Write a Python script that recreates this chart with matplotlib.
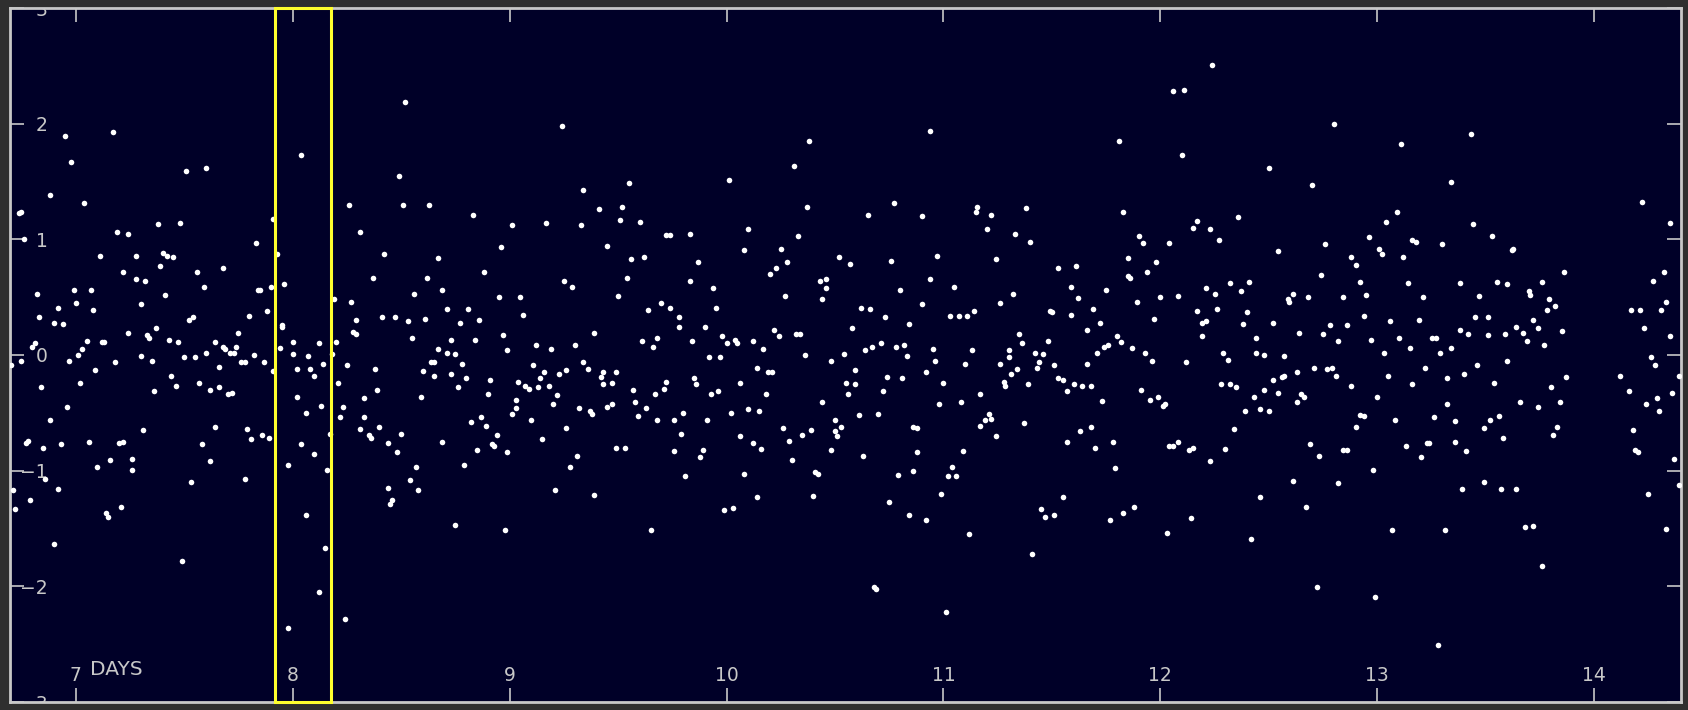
import matplotlib
matplotlib.use("Agg")
import matplotlib.pyplot as plt
from matplotlib.patches import Rectangle
import numpy as np

# (day, value) readings, split by day range
seg_7 = [
    (6.70, -0.09), (6.71, -1.17), (6.72, -1.33), (6.74, 1.23), (6.75, 1.24), (6.75, -0.05), (6.76, 1.00),
    (6.77, -0.76), (6.78, -0.74), (6.79, -1.25), (6.80, 0.07), (6.81, 0.10), (6.82, 0.53), (6.83, 0.33),
    (6.84, -0.28), (6.85, -0.80), (6.86, -1.07), (6.88, 1.38), (6.88, -0.56), (6.90, -1.63), (6.90, 0.28),
    (6.92, -1.16), (6.92, 0.41), (6.93, -0.77), (6.94, 0.27), (6.95, 1.89), (6.96, -0.45), (6.97, -0.05),
    (6.98, 1.67), (6.99, 0.56), (7.00, 0.45), (7.01, 0.00), (7.02, -0.24), (7.03, 0.05), (7.04, 1.31),
    (7.05, 0.12), (7.06, -0.75), (7.07, 0.56), (7.08, 0.39), (7.09, -0.13), (7.10, -0.97), (7.11, 0.86),
    (7.12, 0.11), (7.13, 0.11), (7.14, -1.37), (7.15, -1.40), (7.16, -0.91), (7.17, 1.93), (7.18, -0.06),
    (7.19, 1.06), (7.20, -0.76), (7.21, -1.31), (7.22, -0.75), (7.22, 0.72), (7.24, 0.19), (7.24, 1.05),
    (7.26, -0.90), (7.26, -0.99), (7.28, 0.86), (7.28, 0.66), (7.30, 0.44), (7.30, -0.01), (7.31, -0.65),
    (7.32, 0.64), (7.33, 0.17), (7.34, 0.15), (7.35, -0.05), (7.36, -0.31), (7.37, 0.23), (7.38, 1.13),
    (7.39, 0.77), (7.40, 0.88), (7.42, 0.86), (7.45, 0.85), (7.41, 0.52), (7.43, 0.13), (7.44, -0.18),
    (7.46, -0.27), (7.47, 0.11), (7.48, 1.14), (7.49, -1.78), (7.50, -0.02), (7.51, 1.59), (7.52, 0.30),
    (7.54, 0.33), (7.53, -1.10), (7.55, -0.02), (7.56, 0.72), (7.57, -0.24), (7.58, -0.77), (7.59, 0.59),
    (7.60, 0.02), (7.60, 1.62), (7.62, -0.30), (7.62, -0.92), (7.64, 0.11), (7.64, -0.62), (7.66, -0.28),
    (7.66, -0.10), (7.68, 0.75), (7.68, 0.07), (7.69, 0.05), (7.70, -0.34), (7.72, -0.33), (7.71, 0.02),
    (7.73, 0.02), (7.74, 0.07), (7.75, 0.19), (7.76, -0.06), (7.78, -0.06), (7.78, -1.07), (7.79, -0.64),
    (7.80, 0.34), (7.81, -0.73), (7.82, 0.00), (7.83, 0.97), (7.84, 0.56), (7.85, 0.56), (7.86, -0.69),
    (7.87, -0.06), (7.88, 0.38), (7.89, -0.72), (7.90, 0.59), (7.91, -0.14), (7.91, 1.18), (7.93, 0.87),
    (7.94, 0.06), (7.95, 0.26), (7.95, 0.24), (7.96, 0.61), (7.98, -0.95), (7.98, -2.36),
]

seg_8 = [
    (8.04, 1.73), (8.00, 0.11), (8.00, 0.01), (8.02, -0.36), (8.02, -0.12), (8.04, -0.77), (8.06, -1.38),
    (8.06, -0.50), (8.07, -0.01), (8.08, -0.12), (8.10, -0.18), (8.10, -0.86), (8.12, 0.10), (8.12, -2.05),
    (8.13, -0.44), (8.14, -0.08), (8.15, -1.67), (8.16, -0.99), (8.17, -0.68), (8.18, 0.01), (8.19, 0.48),
    (8.20, 0.11), (8.21, -0.24), (8.22, -0.54), (8.23, -0.45), (8.24, -2.28), (8.25, -0.09), (8.26, 1.30),
    (8.27, 0.46), (8.28, 0.20), (8.29, 0.18), (8.29, 0.30), (8.31, -0.64), (8.31, 1.06), (8.33, -0.54),
    (8.33, -0.37), (8.35, -0.69), (8.36, -0.72), (8.37, 0.67), (8.38, -0.12), (8.39, -0.30), (8.40, -0.62),
    (8.41, 0.33), (8.42, 0.87), (8.44, -1.15), (8.44, -0.76), (8.45, -1.29), (8.46, -1.25), (8.47, 0.33),
    (8.48, -0.84), (8.49, 1.55), (8.50, -0.68), (8.51, 1.30), (8.52, 2.19), (8.53, 0.29), (8.54, -1.08),
    (8.55, 0.15), (8.56, 0.53), (8.57, -0.97), (8.58, -1.17), (8.59, -0.36), (8.60, -0.14), (8.61, 0.31),
    (8.62, 0.67), (8.63, 1.30), (8.64, -0.06), (8.65, -0.06), (8.65, -0.18), (8.67, 0.84), (8.67, 0.05),
    (8.69, 0.56), (8.69, -0.75), (8.71, 0.02), (8.71, 0.40), (8.73, -0.16), (8.73, 0.13), (8.75, 0.01),
    (8.75, -1.47), (8.76, -0.28), (8.77, 0.28), (8.78, -0.08), (8.79, -0.95), (8.80, -0.20), (8.81, 0.40),
    (8.82, -0.58), (8.83, 1.21), (8.84, 0.13), (8.85, -0.82), (8.86, 0.30), (8.87, -0.54), (8.88, 0.72),
    (8.89, -0.61), (8.90, -0.34), (8.91, -0.22), (8.92, -0.77), (8.93, -0.79), (8.94, -0.69), (8.95, 0.50),
    (8.96, 0.93), (8.97, 0.17), (8.98, -1.51), (8.99, -0.84), (8.99, 0.04),
]

seg_9 = [
    (9.01, 1.12), (9.01, -0.51), (9.03, -0.39), (9.03, -0.46), (9.04, -0.23), (9.05, 0.50), (9.06, 0.35),
    (9.07, -0.27), (9.09, -0.29), (9.10, -0.56), (9.11, -0.09), (9.12, 0.09), (9.13, -0.28), (9.14, -0.20),
    (9.15, -0.73), (9.16, -0.15), (9.17, 1.14), (9.18, -0.27), (9.19, 0.05), (9.20, -0.42), (9.21, -1.17),
    (9.22, -0.35), (9.23, -0.16), (9.24, 1.98), (9.25, 0.64), (9.26, -0.63), (9.26, -0.13), (9.29, 0.59),
    (9.28, -0.97), (9.30, 0.09), (9.31, -0.87), (9.32, -0.46), (9.33, 1.12), (9.34, 1.43), (9.34, -0.06),
    (9.36, -0.12), (9.37, -0.48), (9.38, -0.51), (9.39, -1.21), (9.39, 0.19), (9.41, 1.26), (9.42, -0.19),
    (9.43, -0.25), (9.43, -0.15), (9.45, 0.94), (9.45, -0.45), (9.47, -0.42), (9.47, -0.24), (9.49, -0.15),
    (9.49, -0.80), (9.53, -0.80), (9.50, 0.51), (9.51, 1.17), (9.52, 1.28), (9.54, 0.67), (9.55, 1.49),
    (9.56, 0.83), (9.57, -0.30), (9.58, -0.41), (9.59, -0.53), (9.60, 1.15), (9.61, 0.12), (9.62, 0.85),
    (9.63, -0.46), (9.64, 0.39), (9.65, -1.51), (9.66, 0.07), (9.67, -0.34), (9.68, -0.56), (9.68, 0.15),
    (9.70, 0.45), (9.71, -0.29), (9.72, -0.23), (9.72, 1.04), (9.74, 1.04), (9.74, 0.41), (9.76, -0.56),
    (9.76, -0.83), (9.78, 0.24), (9.78, 0.33), (9.79, -0.68), (9.80, -0.50), (9.81, -1.05), (9.83, 1.05),
    (9.83, 0.64), (9.84, 0.12), (9.85, -0.20), (9.86, -0.25), (9.87, 0.80), (9.88, -0.88), (9.89, -0.82),
    (9.90, 0.24), (9.91, -0.56), (9.92, -0.02), (9.93, -0.34), (9.94, 0.58), (9.95, 0.41), (9.96, -0.31),
    (9.97, -0.02), (9.98, 0.16), (9.99, -1.34),
]

seg_10 = [
    (10.03, -1.32), (10.00, 0.10), (10.01, 1.51), (10.02, -0.50), (10.04, 0.13), (10.05, 0.10),
    (10.06, -0.70), (10.06, -0.24), (10.08, -1.03), (10.08, 0.91), (10.10, 1.09), (10.10, -0.47),
    (10.12, -0.76), (10.12, 0.12), (10.14, -0.11), (10.14, -1.23), (10.15, -0.48), (10.16, -0.81),
    (10.17, 0.05), (10.18, -0.34), (10.19, -0.15), (10.21, -0.15), (10.20, 0.70), (10.22, 0.22),
    (10.23, 0.75), (10.24, 0.16), (10.25, 0.92), (10.26, -0.63), (10.27, 0.51), (10.28, 0.80),
    (10.29, -0.74), (10.30, -0.91), (10.31, 1.63), (10.32, 0.18), (10.34, 0.18), (10.33, 1.03),
    (10.35, -0.69), (10.36, 0.00), (10.37, 1.28), (10.38, 1.85), (10.39, -0.65), (10.40, -1.22),
    (10.41, -1.01), (10.42, -1.03), (10.43, 0.64), (10.44, -0.41), (10.44, 0.48), (10.46, 0.58),
    (10.46, 0.66), (10.48, -0.82), (10.48, -0.05), (10.50, -0.66), (10.50, -0.56), (10.51, -0.70),
    (10.52, 0.85), (10.53, -0.62), (10.54, 0.01), (10.55, -0.24), (10.56, -0.34), (10.57, 0.79),
    (10.58, 0.23), (10.59, -0.25), (10.59, -0.13), (10.61, -0.52), (10.62, 0.41), (10.63, -0.87),
    (10.64, 0.04), (10.65, 1.21), (10.66, 0.40), (10.67, 0.07), (10.68, -2.01), (10.69, -2.02),
    (10.70, -0.51), (10.71, 0.10), (10.72, -0.31), (10.73, 0.33), (10.74, -0.19), (10.75, -1.27),
    (10.76, 0.81), (10.77, 1.31), (10.78, 0.07), (10.79, -1.04), (10.80, 0.56), (10.81, -0.20),
    (10.82, 0.09), (10.83, -0.01), (10.84, -1.38), (10.84, 0.27), (10.86, -0.62), (10.88, -0.63),
    (10.86, -1.00), (10.88, -0.84), (10.90, 0.44), (10.90, 1.20), (10.92, -1.43), (10.92, -0.15),
    (10.94, 0.66), (10.94, 1.94), (10.95, 0.05), (10.96, -0.05), (10.97, 0.86), (10.98, -0.42),
    (10.99, -1.20),
]

seg_11 = [
    (11.00, -0.24), (11.01, -2.22), (11.02, -1.05), (11.03, 0.34), (11.04, -0.97), (11.05, 0.59),
    (11.06, -1.05), (11.07, 0.34), (11.08, -0.41), (11.09, -0.83), (11.10, -0.08), (11.11, 0.34),
    (11.12, -1.55), (11.13, 0.04), (11.14, 0.38), (11.15, 1.24), (11.155, 1.28), (11.17, -0.61),
    (11.17, -0.34), (11.19, -0.56), (11.21, -0.51), (11.20, 1.09), (11.22, 1.21), (11.22, -0.55),
    (11.24, -0.70), (11.24, 0.83), (11.26, -0.08), (11.26, 0.45), (11.28, -0.23), (11.285, -0.27),
    (11.30, -0.02), (11.30, 0.04), (11.31, -0.16), (11.32, 0.53), (11.33, 1.05), (11.34, -0.12),
    (11.35, 0.18), (11.36, 0.10), (11.37, -0.59), (11.38, 1.27), (11.39, -0.25), (11.40, 0.98),
    (11.41, -1.72), (11.42, 0.02), (11.43, -0.11), (11.44, -0.06), (11.45, -1.33), (11.47, -1.40),
    (11.46, 0.01), (11.48, 0.12), (11.49, 0.38), (11.50, 0.37), (11.51, -0.09), (11.51, -1.38),
    (11.53, 0.75), (11.53, -0.20), (11.55, -0.22), (11.55, -1.23), (11.57, -0.31), (11.57, -0.75),
    (11.59, 0.35), (11.59, 0.59), (11.60, -0.25), (11.61, 0.77), (11.62, 0.49), (11.63, -0.66),
    (11.64, -0.27), (11.66, 0.22), (11.66, -0.08), (11.68, -0.62), (11.68, -0.27), (11.69, 0.40),
    (11.70, -0.80), (11.71, 0.02), (11.72, 0.28), (11.73, -0.40), (11.74, 0.07), (11.76, 0.09),
    (11.75, 0.56), (11.77, -1.43), (11.78, -0.75), (11.79, -0.98), (11.80, 0.16), (11.81, 1.85),
    (11.82, 0.11), (11.83, -1.37), (11.83, 1.24), (11.85, 0.84), (11.85, 0.68), (11.86, 0.67),
    (11.87, 0.06), (11.88, -1.31), (11.89, 0.46), (11.90, 1.03), (11.91, -0.30), (11.92, 0.97),
    (11.93, 0.02), (11.94, 0.72), (11.95, -0.39), (11.96, -0.05), (11.97, 0.31), (11.98, 0.80),
    (11.99, -0.36),
]

seg_12 = [
    (12.00, 0.50), (12.01, -0.44), (12.02, -0.42), (12.03, -1.54), (12.04, -0.79), (12.06, -0.79),
    (12.04, 0.97), (12.06, 2.28), (12.08, 0.51), (12.08, -0.75), (12.10, 1.73), (12.11, 2.29),
    (12.12, -0.06), (12.13, -0.82), (12.14, -1.41), (12.15, 1.10), (12.15, -0.80), (12.17, 0.38),
    (12.17, 1.16), (12.19, 0.16), (12.19, 0.28), (12.21, 0.29), (12.21, 0.58), (12.23, -0.92),
    (12.23, 1.09), (12.24, 2.51), (12.25, 0.53), (12.26, 0.40), (12.27, 0.99), (12.28, -0.25),
    (12.29, 0.02), (12.30, -0.81), (12.31, -0.04), (12.32, 0.62), (12.32, -0.25), (12.35, -0.28),
    (12.34, -0.64), (12.36, 1.19), (12.37, 0.55), (12.38, 0.27), (12.39, -0.48), (12.40, 0.37),
    (12.41, 0.63), (12.42, -1.59), (12.43, -0.36), (12.44, 0.02), (12.44, 0.15), (12.46, -0.47),
    (12.46, -1.23), (12.48, -0.30), (12.48, 0.00), (12.50, 1.62), (12.50, -0.48), (12.52, 0.28),
    (12.52, -0.22), (12.56, -0.19), (12.57, -0.18), (12.54, 0.90), (12.54, -0.33), (12.57, -0.01),
    (12.59, 0.48), (12.595, 0.46), (12.61, -1.09), (12.61, 0.53), (12.63, -0.15), (12.63, -0.41),
    (12.64, 0.19), (12.65, -0.34), (12.66, -0.36), (12.67, -1.31), (12.68, 0.50), (12.69, -0.77),
    (12.70, 1.47), (12.71, -0.11), (12.72, -2.01), (12.73, -0.87), (12.74, 0.69), (12.75, 0.18),
    (12.76, 0.96), (12.77, -0.12), (12.79, -0.11), (12.78, 0.26), (12.80, 2.00), (12.81, -0.18),
    (12.82, 0.12), (12.82, -1.11), (12.84, -0.82), (12.86, -0.82), (12.84, 0.50), (12.86, 0.26),
    (12.88, 0.85), (12.88, -0.27), (12.90, 0.78), (12.90, -0.62), (12.92, 0.63), (12.92, -0.52),
    (12.94, -0.53), (12.94, 0.34), (12.95, 0.52), (12.96, 1.02), (12.97, 0.13), (12.98, -0.99),
    (12.99, -2.09),
]

seg_13 = [
    (13.00, -0.36), (13.01, 0.92), (13.02, 0.87), (13.03, 0.02), (13.04, 1.15), (13.05, -0.18),
    (13.06, 0.29), (13.07, -1.51), (13.08, -0.56), (13.09, 1.24), (13.10, 0.15), (13.11, 1.82),
    (13.12, 0.85), (13.13, -0.79), (13.14, 0.62), (13.15, 0.06), (13.16, -0.25), (13.16, 0.99),
    (13.18, 0.98), (13.19, 0.30), (13.20, -0.88), (13.21, 0.50), (13.22, -0.11), (13.23, -0.76),
    (13.24, -0.76), (13.25, 0.15), (13.27, 0.15), (13.26, -0.54), (13.28, -2.51), (13.29, 0.02),
    (13.30, 0.96), (13.31, -1.51), (13.32, -0.42), (13.32, -0.20), (13.34, 1.50), (13.34, 0.06),
    (13.36, -0.57), (13.36, -0.75), (13.38, 0.22), (13.38, 0.62), (13.39, -1.16), (13.40, -0.16),
    (13.41, -0.83), (13.42, 0.18), (13.43, 1.91), (13.44, 1.13), (13.45, 0.33), (13.46, -0.09),
    (13.47, 0.51), (13.49, -1.10), (13.49, -0.63), (13.51, 0.33), (13.51, 0.17), (13.52, -0.56),
    (13.53, 1.03), (13.54, -0.24), (13.55, 0.63), (13.56, -0.53), (13.57, -1.16), (13.58, -0.72),
    (13.59, 0.18), (13.60, -0.05), (13.60, 0.61), (13.62, 0.91), (13.625, 0.92), (13.64, 0.24),
    (13.64, -1.16), (13.66, -0.41), (13.67, 0.19), (13.68, -1.49), (13.69, 0.12), (13.70, 0.55),
    (13.705, 0.52), (13.72, 0.30), (13.72, -1.48), (13.74, 0.23), (13.74, -0.45), (13.76, 0.63),
    (13.76, -1.82), (13.77, 0.09), (13.78, 0.39), (13.79, 0.48), (13.80, -0.28), (13.81, -0.69),
    (13.82, 0.42), (13.83, -0.62), (13.84, -0.41), (13.85, 0.21), (13.86, 0.72), (13.87, -0.19),
]

seg_14 = [
    (14.12, -0.18), (14.16, -0.31), (14.17, 0.39), (14.21, 0.39), (14.18, -0.65), (14.19, -0.82),
    (14.20, -0.84), (14.22, 1.32), (14.23, 0.23), (14.24, -0.42), (14.25, -1.20), (14.26, -0.02),
    (14.27, 0.64), (14.28, -0.09), (14.29, -0.37), (14.30, -0.48), (14.31, 0.39), (14.32, 0.72),
    (14.33, -1.50), (14.33, 0.46), (14.35, 1.14), (14.35, 0.16), (14.36, -0.33), (14.37, -0.90),
    (14.39, -1.12), (14.39, -0.18),
]

x_ticks = [7, 8, 9, 10, 11, 12, 13, 14]
y_ticks = [-3, -2, -1, 0, 1, 2, 3]
x_range = (6.697, 14.40)
y_range = (-3, 3)
highlight_days = (7.919, 8.177)
axis_title = "DAYS"

pts = np.array(seg_7 + seg_8 + seg_9 + seg_10 + seg_11 + seg_12 + seg_13 + seg_14)

W, H = 1688, 710
fig = plt.figure(figsize=(W / 100, H / 100), dpi=100, facecolor="#2f2f2f")
ax = fig.add_axes([10 / W, 8 / H, 1671 / W, 694 / H])
ax.set_facecolor("#000028")

ax.scatter(pts[:, 0], pts[:, 1], s=16, c="white", linewidths=0, zorder=3)

ax.set_xlim(*x_range)
ax.set_ylim(*y_range)
ax.set_xticks(x_ticks)
ax.set_yticks(y_ticks)

fg = "#c8c8c8"
ax.tick_params(direction="in", length=10, width=1.2, color=fg, labelcolor=fg,
               labelsize=13.5, top=True, right=True)
ax.tick_params(axis="x", pad=-26)
ax.tick_params(axis="y", pad=-27)
for sp in ax.spines.values():
    sp.set_color(fg)
    sp.set_linewidth(2)

ax.add_patch(Rectangle((highlight_days[0], y_range[0]), highlight_days[1] - highlight_days[0],
                       y_range[1] - y_range[0], fill=False, edgecolor="#ffff2e",
                       linewidth=2.2, zorder=4, clip_on=False))

ax.text(0.048, 0.039, axis_title, transform=ax.transAxes, color=fg, fontsize=14.5,
        ha="left", va="baseline")

for lab in ax.get_xticklabels() + ax.get_yticklabels():
    lab.set_clip_box(ax.bbox)
    lab.set_clip_on(True)

fig.savefig("out.png", dpi=100, facecolor=fig.get_facecolor())
